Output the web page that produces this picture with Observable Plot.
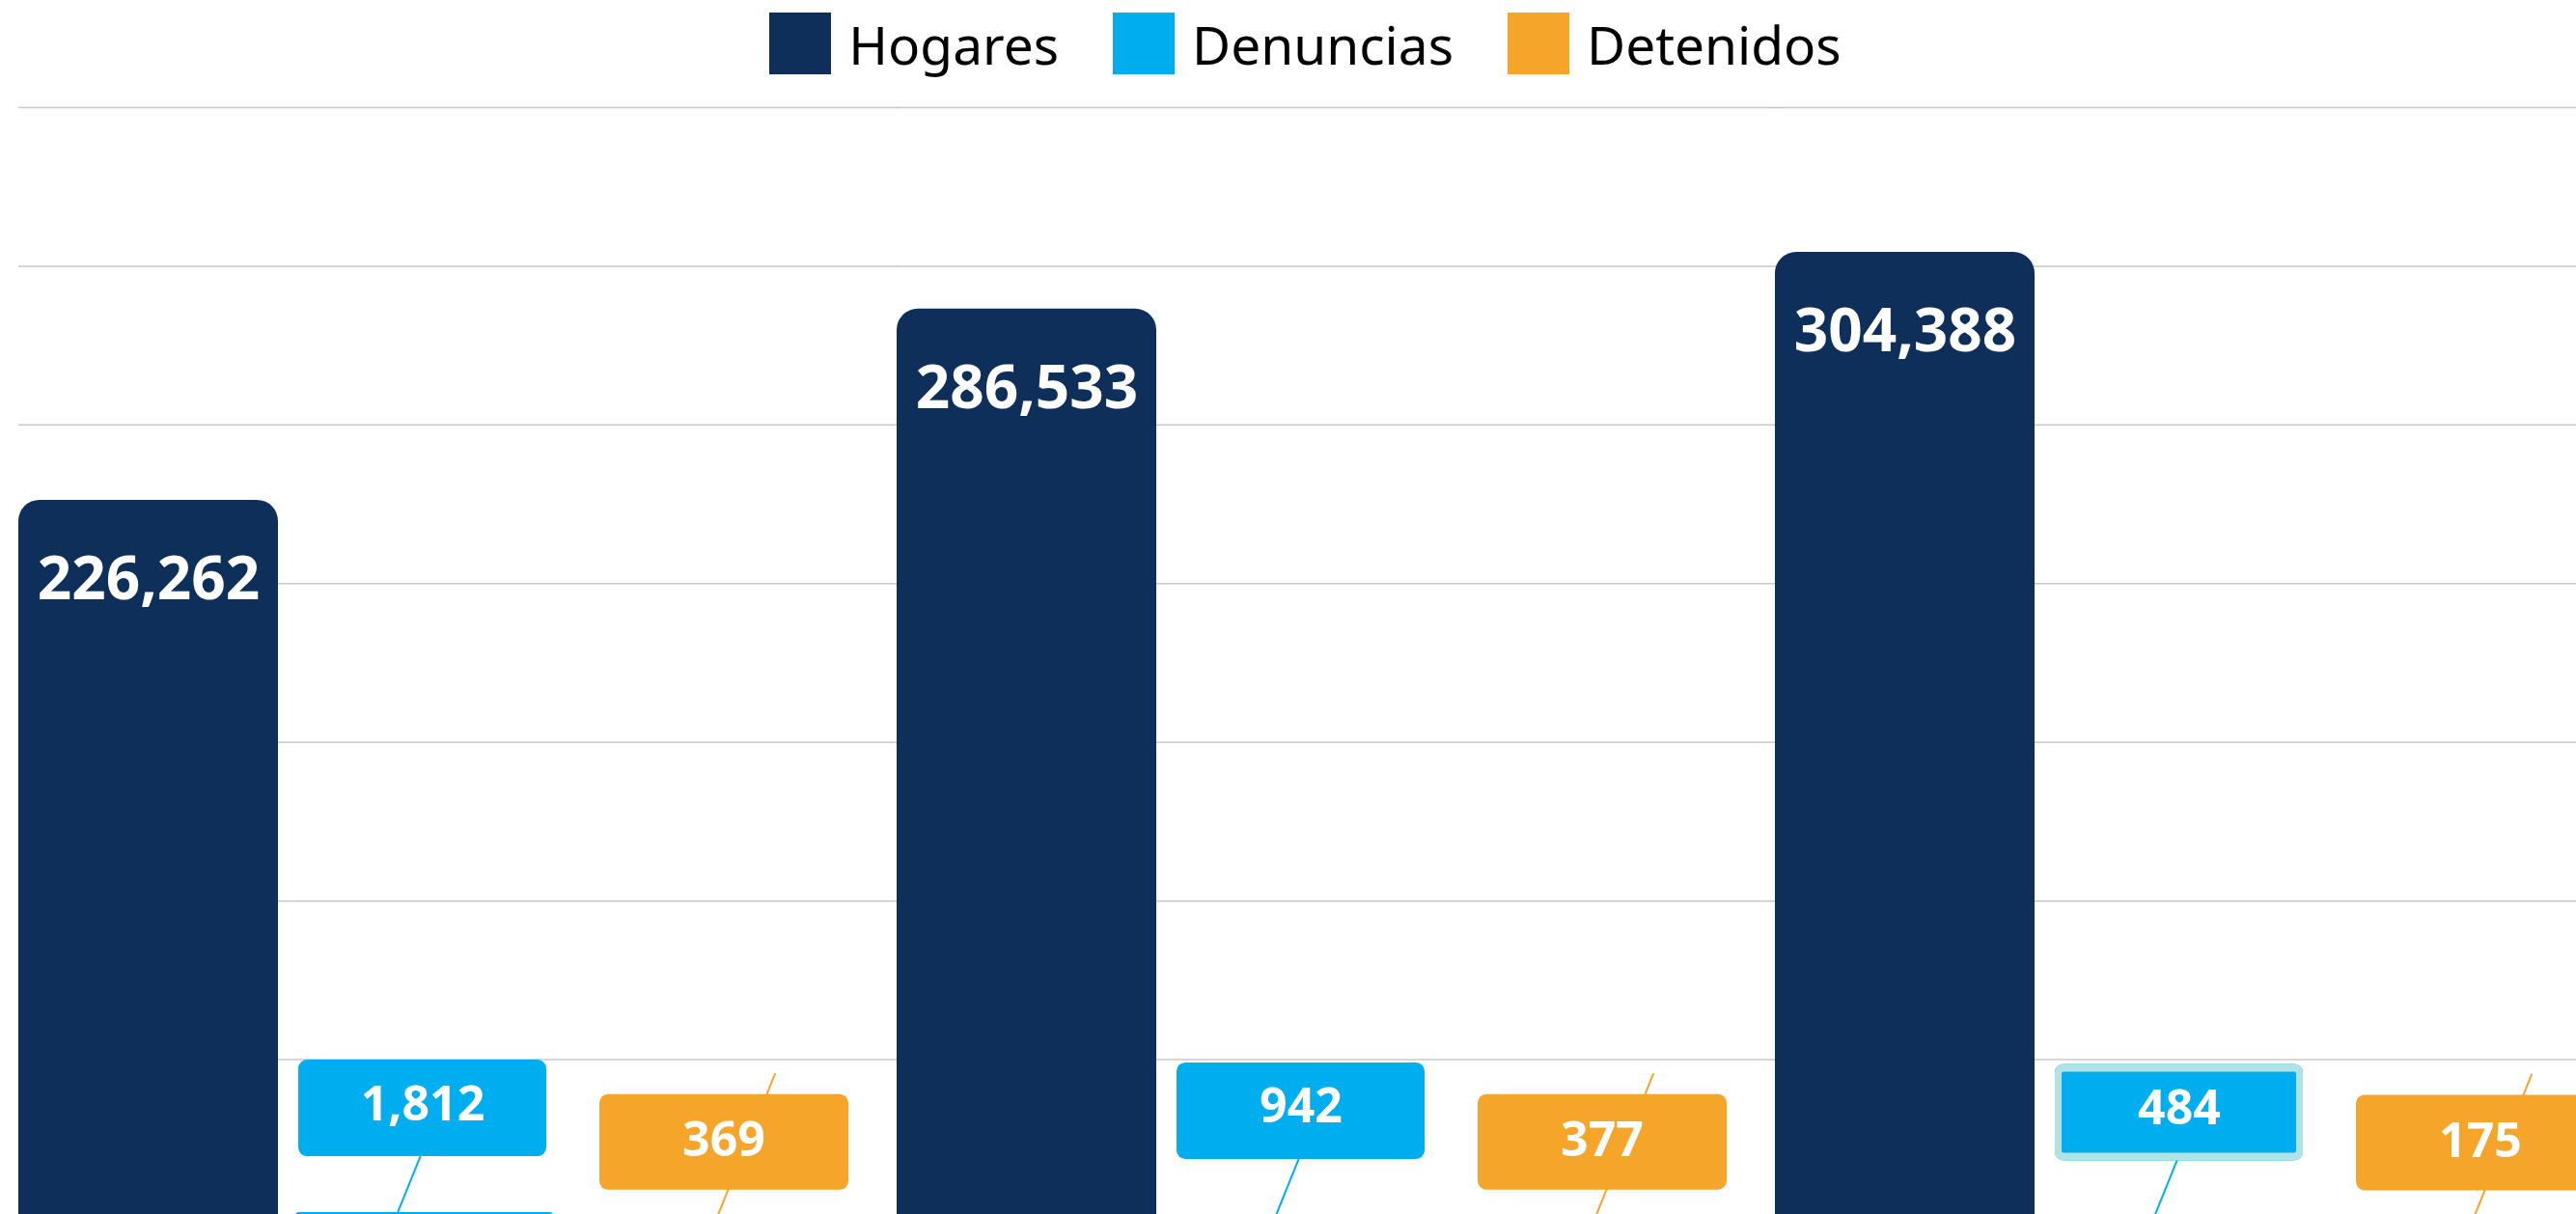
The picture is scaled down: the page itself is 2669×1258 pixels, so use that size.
<!DOCTYPE html>
<html>
<head>
<meta charset="utf-8">
<script src="https://cdn.jsdelivr.net/npm/d3@7"></script>
<script src="https://cdn.jsdelivr.net/npm/@observablehq/plot@0.6"></script>
<style>
  html, body { margin: 0; padding: 0; background: #fff; overflow: hidden; width: 2669px; height: 1258px; }
  #legend { height: 90px; display: flex; justify-content: center; align-items: center; padding-left: 36px; box-sizing: border-box; }
  #legend > div { margin: 0 !important; font-family: "Noto Sans", sans-serif !important; font-size: 55px !important; color: #000 !important; min-height: 0 !important; }
  #legend span { margin-right: 56px !important; }
  #legend span:last-child { margin-right: 0 !important; }
  #legend span > svg { margin-right: 18px !important; }
  #chart svg { display: block; }
</style>
</head>
<body>
<div id="legend"></div>
<div id="chart"></div>
<script>
// ---- data ----
const groups = ["Periodo 1", "Periodo 2", "Periodo 3"];
const series = ["Hogares", "Denuncias", "Detenidos"];
const hogares = [226262, 286533, 304388];
const denuncias = [1812, 942, 484];
const detenidos = [369, 377, 175];
const colors = ["#0F2F5B", "#00AEEF", "#F5A52A"];
const yTicks = [0, 50000, 100000, 150000, 200000, 250000, 300000, 350000];

const values = [hogares, denuncias, detenidos];
const rows = groups.flatMap((g, i) => series.map((s, j) => ({group: g, series: s, value: values[j][i]})));
const fmt = d3.format(",");
const labelFont = "'Open Sans', 'Noto Sans', sans-serif";

// label callouts for the small series
const callouts = [
  {name: "Denuncias", color: colors[1], top: -158, bottom: 58, left: 4, right: 8, lineDx: -28, lineLen: 167, textDx: -2, textDy: -112},
  {name: "Detenidos", color: colors[2], top: -127, bottom: 28, left: 30, right: -19, lineDx: 17, lineLen: 160, textDx: 24, textDy: -79}
];

const calloutMarks = callouts.flatMap(c => {
  const f = d => d.series === c.name;
  return [
    Plot.vector(rows, {
      filter: f, fx: "group", x: "series", y: "value",
      dx: c.lineDx, length: c.lineLen, rotate: 22, anchor: "start",
      shape: {draw(ctx, l) { ctx.moveTo(0, 0); ctx.lineTo(0, -l); }},
      stroke: c.color, strokeWidth: 2
    }),
    Plot.barY(rows, {
      filter: f, fx: "group", x: "series", y1: "value", y2: "value",
      insetTop: c.top, insetBottom: c.bottom, insetLeft: c.left, insetRight: c.right,
      rx: 9, fill: c.color
    })
  ];
});

// selected-looking label outline (Denuncias, last group)
const sel = d => d.series === "Denuncias" && d.group === groups[2];
const selMarks = [
  Plot.barY(rows, {filter: sel, fx: "group", x: "series", y1: "value", y2: "value",
    insetTop: callouts[0].top, insetBottom: callouts[0].bottom, insetLeft: callouts[0].left, insetRight: callouts[0].right,
    rx: 9, fill: "#B0E3E6"}),
  Plot.barY(rows, {filter: sel, fx: "group", x: "series", y1: "value", y2: "value",
    insetTop: callouts[0].top + 8, insetBottom: callouts[0].bottom + 8, insetLeft: callouts[0].left + 7, insetRight: callouts[0].right + 7,
    rx: 2, fill: colors[1]})
];

const textMarks = callouts.map(c => Plot.text(rows, {
  filter: d => d.series === c.name, fx: "group", x: "series", y: "value",
  text: d => fmt(d.value), dx: c.textDx, dy: c.textDy,
  fill: "white", fontSize: 50, fontWeight: 700, fontFamily: labelFont
}));

const chart = Plot.plot({
  width: 2700,
  height: 1172,
  marginTop: 21,
  marginBottom: 0,
  marginLeft: 19,
  marginRight: 19,
  style: {maxWidth: "none", background: "white"},
  fx: {domain: groups, paddingInner: 68 / 910, paddingOuter: 0, align: 0, axis: null, label: null},
  x: {domain: series, paddingInner: 17 / 287, paddingOuter: 0, axis: null, label: null},
  y: {domain: [0, 350000], axis: null, label: null},
  color: {domain: series, range: colors},
  marks: [
    Plot.ruleY(yTicks, {stroke: "#c8c8c8", strokeWidth: 1.5, insetRight: -70}),
    Plot.barY(rows, {filter: d => d.series === "Hogares", fx: "group", x: "series", y: "value", fill: "series", rx: 22, insetBottom: -40}),
    Plot.barY(rows, {filter: d => d.series !== "Hogares", fx: "group", x: "series", y: "value", fill: "series", rx: 5, insetBottom: -40}),
    Plot.text(rows, {filter: d => d.series === "Hogares", fx: "group", x: "series", y: "value",
      text: d => fmt(d.value), dy: 83, fill: "white", fontSize: 62, fontWeight: 700, fontFamily: labelFont}),
    ...calloutMarks,
    ...selMarks,
    ...textMarks
  ]
});
document.getElementById("chart").appendChild(chart);

const legend = Plot.legend({
  legend: "swatches",
  color: {domain: series, range: colors},
  swatchSize: 64,
  className: "lg"
});
document.getElementById("legend").appendChild(legend);
</script>
</body>
</html>
